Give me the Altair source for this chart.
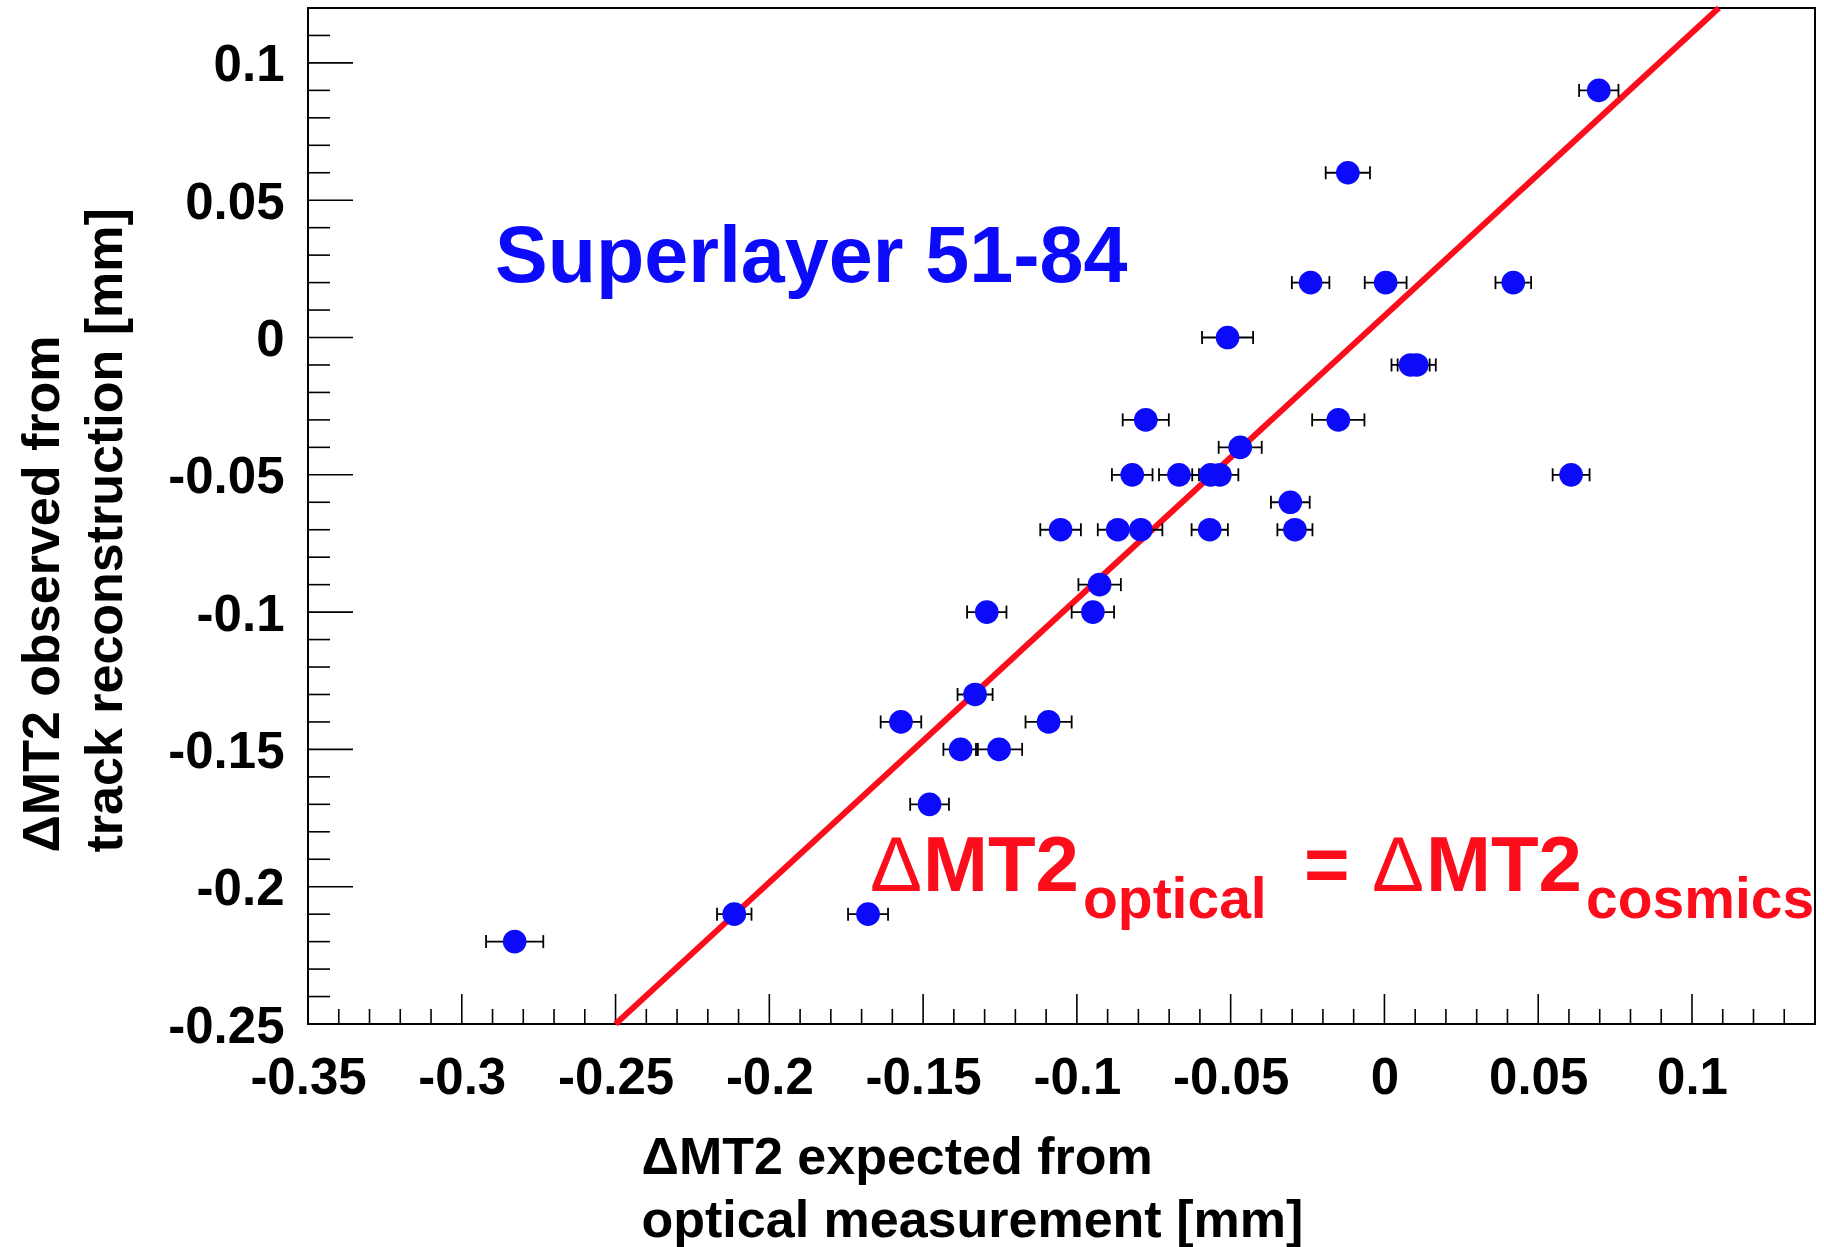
import altair as alt
import pandas as pd

# ---------------- data ----------------
x_optical = [0.0697, -0.0119, -0.0240, 0.0004, 0.0419, -0.0510, 0.0085, 0.0105,
             -0.0776, -0.0150, -0.0469, -0.0820, -0.0668, -0.0565, -0.0535, 0.0607,
             -0.0306, -0.1053, -0.0867, -0.0792, -0.0568, -0.0291, -0.0926, -0.1293,
             -0.0948, -0.1331, -0.1572, -0.1092, -0.1378, -0.1253, -0.1479, -0.2114,
             -0.1679, -0.2828]
y_cosmics = [0.09, 0.06, 0.02, 0.02, 0.02, 0.0, -0.01, -0.01,
             -0.03, -0.03, -0.04, -0.05, -0.05, -0.05, -0.05, -0.05,
             -0.06, -0.07, -0.07, -0.07, -0.07, -0.07, -0.09, -0.10,
             -0.10, -0.13, -0.14, -0.14, -0.15, -0.15, -0.17, -0.21,
             -0.21, -0.22]
x_err = [0.0064, 0.0072, 0.0061, 0.0068, 0.0058, 0.0083, 0.0062, 0.0062,
         0.0075, 0.0085, 0.0070, 0.0066, 0.0065, 0.0060, 0.0060, 0.0060,
         0.0063, 0.0066, 0.0065, 0.0070, 0.0059, 0.0057, 0.0069, 0.0064,
         0.0069, 0.0057, 0.0066, 0.0075, 0.0056, 0.0075, 0.0063, 0.0056,
         0.0065, 0.0093]

line_x = [-0.25, 0.1087]
line_y = [-0.25, 0.12]

x_major_ticks = [-0.35, -0.3, -0.25, -0.2, -0.15, -0.1, -0.05, 0.0, 0.05, 0.1]
y_major_ticks = [-0.25, -0.2, -0.15, -0.1, -0.05, 0.0, 0.05, 0.1]
x_minor_ticks = [round(-0.35 + 0.01 * i, 2) for i in range(49) if i % 5]
y_minor_ticks = [round(-0.25 + 0.01 * i, 2) for i in range(37) if i % 5]

x_title_lines = ["\u0394MT2 expected from", "optical measurement [mm]"]
y_title_lines = ["\u0394MT2 observed from", "track reconstruction [mm]"]
panel_label = "Superlayer 51-84"
eq_main = "MT2"
eq_delta = "\u0394"
eq_sub_left = "optical"
eq_equals = "="
eq_sub_right = "cosmics"

# ---------------- layout / style ----------------
W, H = 1507, 1016
FONT = "Liberation Sans"
BLUE = "#0b0bfa"
RED = "#fc0d1b"

df = pd.DataFrame({"x": x_optical, "y": y_cosmics, "err": x_err})
df["lo"] = df["x"] - df["err"]
df["hi"] = df["x"] + df["err"]
line_df = pd.DataFrame({"x": line_x, "y": line_y})

xscale = alt.Scale(domain=[-0.35, 0.14], nice=False, zero=False)
yscale = alt.Scale(domain=[-0.25, 0.12], nice=False, zero=False)

label_expr = "(datum.value < -1e-9 ? '-' : '') + format(abs(datum.value), '.2~f')"

xaxis = alt.Axis(values=x_major_ticks, ticks=False, tickSize=0, domain=False, grid=False,
                 labelFont=FONT, labelFontSize=51, labelFontWeight="bold", labelColor="black",
                 labelPadding=29, labelExpr=label_expr, labelFlush=False, labelOverlap=False,
                 title=x_title_lines, titleFont=FONT, titleFontSize=52, titleFontWeight="bold",
                 titleColor="black", titleX=333, titleY=149, titleAlign="left",
                 titleBaseline="alphabetic", titleAngle=0, titleLineHeight=63)
yaxis = alt.Axis(values=y_major_ticks, ticks=False, tickSize=0, domain=False, grid=False,
                 labelFont=FONT, labelFontSize=51, labelFontWeight="bold", labelColor="black",
                 labelPadding=24, labelExpr=label_expr, labelFlush=False, labelOverlap=False,
                 labelOffset=3,
                 title=y_title_lines, titleFont=FONT, titleFontSize=52, titleFontWeight="bold",
                 titleColor="black", titleX=-250, titleY=844, titleAlign="left",
                 titleBaseline="alphabetic", titleAngle=270, titleLineHeight=63)


def X(field):
    return alt.X(field, type="quantitative", scale=xscale, axis=xaxis)


def Y(field):
    return alt.Y(field, type="quantitative", scale=yscale, axis=yaxis)


def tick_df(vals):
    return pd.DataFrame({"v": vals})


x_major = alt.Chart(tick_df(x_major_ticks)).mark_rule(color="black", strokeWidth=1.6).encode(
    x=X("v"), y=alt.value(H), y2=alt.value(H - 30))
x_minor = alt.Chart(tick_df(x_minor_ticks)).mark_rule(color="black", strokeWidth=1.6).encode(
    x=X("v"), y=alt.value(H), y2=alt.value(H - 15))
y_major = alt.Chart(tick_df(y_major_ticks)).mark_rule(color="black", strokeWidth=1.6).encode(
    y=Y("v"), x=alt.value(0), x2=alt.value(45))
y_minor = alt.Chart(tick_df(y_minor_ticks)).mark_rule(color="black", strokeWidth=1.6).encode(
    y=Y("v"), x=alt.value(0), x2=alt.value(22))

diag = alt.Chart(line_df).mark_line(color=RED, strokeWidth=6).encode(x=X("x"), y=Y("y"))

bars = alt.Chart(df).mark_rule(color="black", strokeWidth=1.8).encode(
    x=X("lo"), x2="hi", y=Y("y"))
cap_lo = alt.Chart(df).mark_rule(color="black", strokeWidth=1.8, yOffset=-6.5, y2Offset=6.5).encode(
    x=X("lo"), y=Y("y"), y2="y")
cap_hi = alt.Chart(df).mark_rule(color="black", strokeWidth=1.8, yOffset=-6.5, y2Offset=6.5).encode(
    x=X("hi"), y=Y("y"), y2="y")

points = alt.Chart(df).mark_circle(size=560, color=BLUE, opacity=1).encode(x=X("x"), y=Y("y"))


def text_layer(text, px, py, size, color, weight="bold"):
    return alt.Chart(pd.DataFrame({"t": [text]})).mark_text(
        font=FONT, fontSize=size, fontWeight=weight, color=color,
        align="left", baseline="alphabetic").encode(
        text="t:N", x=alt.value(px), y=alt.value(py))


labels = [
    text_layer(panel_label, 187, 274, 79, BLUE),
    text_layer(eq_delta, 562, 883, 78, RED, "normal"),
    text_layer(eq_main, 615, 883, 78, RED),
    text_layer(eq_sub_left, 775, 910, 57, RED),
    text_layer(eq_equals, 996, 883, 78, RED),
    text_layer(eq_delta, 1064, 883, 78, RED, "normal"),
    text_layer(eq_main, 1118, 883, 78, RED),
    text_layer(eq_sub_right, 1278, 910, 57, RED),
]

chart = alt.layer(
    x_minor, x_major, y_minor, y_major, diag, bars, cap_lo, cap_hi, points, *labels
).properties(
    width=W, height=H,
    autosize=alt.AutoSizeParams(type="none"),
    padding={"left": 308, "top": 8, "right": 9, "bottom": 223},
    background="white",
).configure_view(stroke="black", strokeWidth=2)

chart.save("out.html", embed_options={"renderer": "svg", "actions": False})
